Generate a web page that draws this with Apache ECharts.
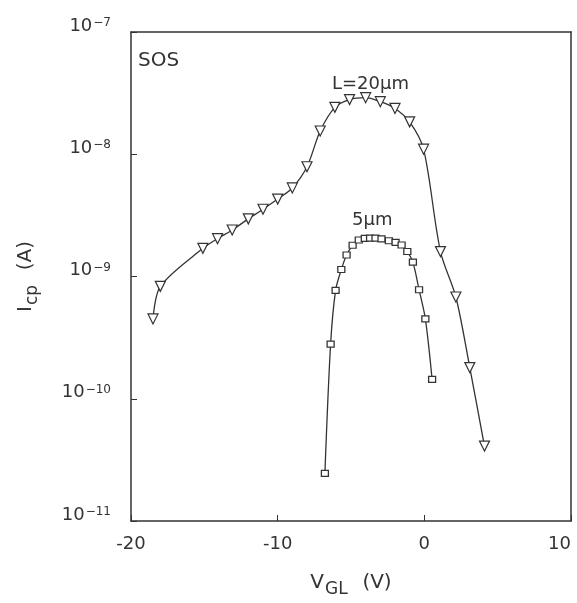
<!DOCTYPE html>
<html>
<head>
<meta charset="utf-8">
<script src="https://cdn.jsdelivr.net/npm/echarts@6/dist/echarts.min.js"></script>
<style>html,body{margin:0;padding:0;background:#fff;overflow:hidden;}#c{width:577px;height:603px;}</style>
</head>
<body>
<div id="c"></div>
<script>
// L = 20 µm (down triangles)
const L20_x = [-18.5, -18.0, -15.1, -14.1, -13.1, -12.0, -11.0, -10.0, -9.0, -8.0, -7.1, -6.1, -5.1, -4.0, -3.0, -2.0, -1.0, -0.05, 1.1, 2.15, 3.1, 4.1];
const L20_y = [4.5e-10, 8.3e-10, 1.7e-9, 2.04e-9, 2.4e-9, 2.96e-9, 3.55e-9, 4.3e-9, 5.3e-9, 7.9e-9, 1.55e-8, 2.42e-8, 2.8e-8, 2.9e-8, 2.69e-8, 2.37e-8, 1.84e-8, 1.1e-8, 1.6e-9, 6.8e-10, 1.8e-10, 4.1e-11];
// L = 5 µm (squares)
const L5_x = [-6.78, -6.39, -6.05, -5.66, -5.30, -4.89, -4.47, -4.06, -3.70, -3.33, -2.92, -2.42, -1.96, -1.55, -1.16, -0.78, -0.36, 0.07, 0.53];
const L5_y = [2.45e-11, 2.8e-10, 7.7e-10, 1.14e-9, 1.5e-9, 1.8e-9, 1.99e-9, 2.05e-9, 2.06e-9, 2.06e-9, 2.03e-9, 1.96e-9, 1.9e-9, 1.81e-9, 1.6e-9, 1.31e-9, 7.8e-10, 4.5e-10, 1.44e-10];
// axis ticks
const xTicks = [-20, -10, 0, 10];
const yDecades = [-11, -10, -9, -8, -7];

const C = '#333';
const FONT = 'DejaVu Sans';
const chart = echarts.init(document.getElementById('c'), null, {renderer: 'canvas', width: 577, height: 603});
const pairs = (xs, ys) => xs.map((x, i) => [x, ys[i]]);

chart.setOption({
  animation: false,
  backgroundColor: '#fff',
  grid: {left: 131, right: 6, top: 32, bottom: 82, show: false, containLabel: false, outerBoundsMode: 'none'},
  xAxis: [{
    type: 'value', min: -20, max: 10, interval: 10,
    axisLine: {show: true, onZero: false, lineStyle: {color: C, width: 1.5}},
    axisTick: {show: true, inside: true, length: 6, lineStyle: {color: C}},
    axisLabel: {color: C, fontSize: 18, fontFamily: FONT, margin: 14, alignMaxLabel: 'right',
      formatter: v => xTicks.indexOf(v) >= 0 ? String(v) : ''},
    splitLine: {show: false},
    name: '{m|V}{s|GL}{m|  (V)}', nameLocation: 'middle', nameGap: 46,
    nameTextStyle: {color: C, fontFamily: FONT, rich: {
      m: {fontSize: 20, color: C, fontFamily: FONT},
      s: {fontSize: 17, color: C, fontFamily: FONT, padding: [14, 2, 0, 1]}
    }}
  }, {
    type: 'value', min: -20, max: 10, position: 'top',
    axisLine: {show: true, onZero: false, lineStyle: {color: C, width: 1.5}},
    axisTick: {show: false}, axisLabel: {show: false}, splitLine: {show: false}
  }],
  yAxis: [{
    type: 'log', min: 1e-11, max: 1e-7, logBase: 10,
    axisLine: {show: true, onZero: false, lineStyle: {color: C, width: 1.5}},
    axisTick: {show: true, inside: true, length: 6, lineStyle: {color: C}},
    minorTick: {show: false},
    splitLine: {show: false},
    axisLabel: {
      margin: 20, fontFamily: FONT,
      formatter: v => {
        const e = Math.round(Math.log10(v));
        return yDecades.indexOf(e) >= 0 ? '{b|10}{s|' + (e < 0 ? '\u2212' + (-e) : e) + '}' : '';
      },
      rich: {
        b: {fontSize: 18, color: C, fontFamily: FONT, padding: [0, 0, 12, 0]},
        s: {fontSize: 12, color: C, fontFamily: FONT, padding: [0, 0, 18, 1]}
      }
    },
    name: '{m|I}{s|cp}{m|  (A)}', nameLocation: 'middle', nameGap: 90, nameRotate: 90,
    nameTextStyle: {color: C, fontFamily: FONT, rich: {
      m: {fontSize: 20, color: C, fontFamily: FONT},
      s: {fontSize: 17, color: C, fontFamily: FONT, padding: [14, 2, 0, 1]}
    }}
  }, {
    type: 'log', min: 1e-11, max: 1e-7, position: 'right',
    axisLine: {show: true, onZero: false, lineStyle: {color: C, width: 1.5}},
    axisTick: {show: false}, axisLabel: {show: false}, splitLine: {show: false}
  }],
  series: [{
    name: 'L=20µm', type: 'line', data: pairs(L20_x, L20_y),
    smooth: 0.3, symbol: 'triangle', symbolRotate: 180, symbolSize: 10,
    lineStyle: {color: C, width: 1.3},
    itemStyle: {color: '#fff', borderColor: C, borderWidth: 1.2}
  }, {
    name: '5µm', type: 'line', data: pairs(L5_x, L5_y),
    smooth: 0.3, symbol: 'rect', symbolSize: [7, 6],
    lineStyle: {color: C, width: 1.3},
    itemStyle: {color: '#fff', borderColor: C, borderWidth: 1.2}
  }],
  graphic: [
    {type: 'text', left: 138, top: 51, style: {text: 'SOS', fontSize: 20, fill: C, fontFamily: FONT}},
    {type: 'text', left: 332, top: 75, style: {text: 'L=20µm', fontSize: 18, fill: C, fontFamily: FONT}},
    {type: 'text', left: 352, top: 211, style: {text: '5µm', fontSize: 18, fill: C, fontFamily: FONT}}
  ]
});
</script>
</body>
</html>
